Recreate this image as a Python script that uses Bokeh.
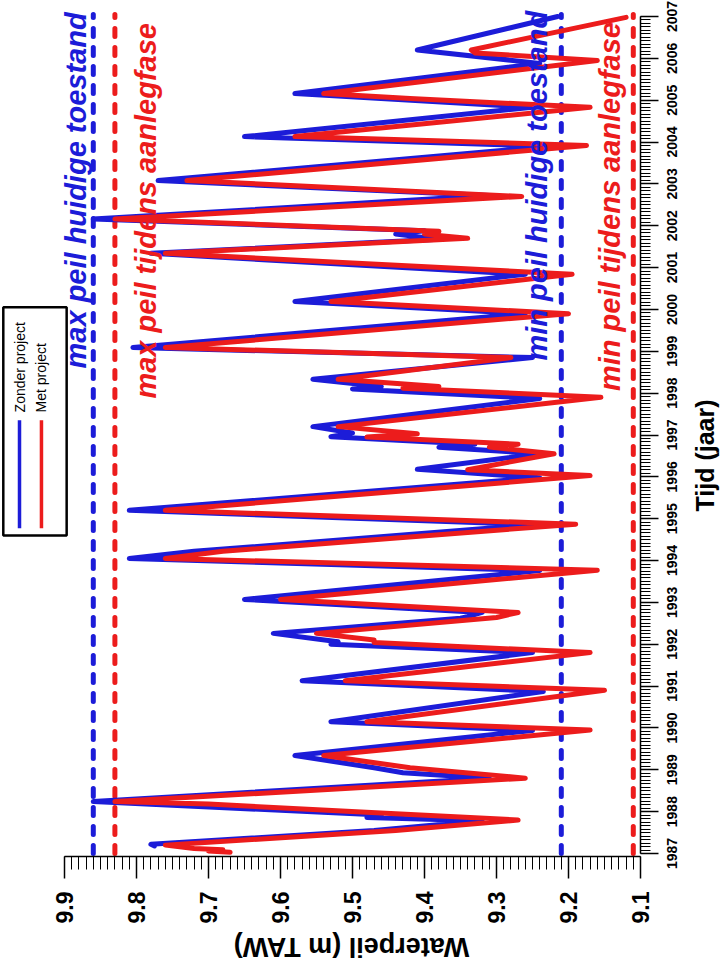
import math
from bokeh.plotting import figure
from bokeh.models import Range1d, LinearAxis, FixedTicker, CustomJSTickFormatter
from bokeh.core.properties import value
from bokeh.embed import file_html
from bokeh.resources import INLINE

# ---------------- data ----------------
years_zonder = [1987.18, 1987.22, 1987.55, 1987.78, 1987.86, 1987.92, 1988.24, 1988.80, 1988.93,
                1989.05, 1989.34, 1989.94, 1990.15, 1990.87, 1991.13, 1991.80, 1992.00, 1992.06,
                1992.26, 1992.62, 1992.66, 1992.76, 1993.07, 1993.76, 1994.05, 1994.22, 1994.86,
                1995.20, 1995.98, 1996.18, 1996.55, 1996.71, 1996.78, 1996.96, 1997.05, 1997.20,
                1997.87, 1998.10, 1998.16, 1998.33, 1998.85, 1999.09, 1999.90, 2000.19, 2000.84,
                2001.34, 2001.68, 2001.80, 2001.88, 2002.16, 2002.72, 2003.08, 2003.90, 2004.13,
                2004.83, 2005.16, 2005.88, 2006.20, 2007.00]
peil_zonder = [9.775, 9.78, 9.47, 9.32, 9.48, 9.46, 9.86, 9.31, 9.43,
               9.47, 9.58, 9.25, 9.53, 9.235, 9.57, 9.25, 9.53, 9.52,
               9.61, 9.35, 9.34, 9.32, 9.65, 9.24, 9.81, 9.72, 9.245,
               9.81, 9.24, 9.41, 9.24, 9.38, 9.33, 9.53, 9.50, 9.555,
               9.24, 9.50, 9.46, 9.555, 9.25, 9.805, 9.26, 9.58, 9.26,
               9.78, 9.38, 9.44, 9.40, 9.86, 9.31, 9.77, 9.225, 9.65,
               9.25, 9.58, 9.24, 9.41, 9.215]

years_met = [1987.03, 1987.06, 1987.09, 1987.12, 1987.20, 1987.55, 1987.80, 1987.95, 1988.18,
             1988.24, 1988.80, 1989.05, 1989.34, 1989.95, 1990.15, 1990.90, 1991.13, 1991.80,
             1992.04, 1992.10, 1992.26, 1992.64, 1992.76, 1993.07, 1993.77, 1994.05, 1994.22,
             1994.87, 1995.20, 1996.03, 1996.17, 1996.55, 1996.71, 1996.78, 1996.95, 1997.03,
             1997.20, 1997.90, 1998.12, 1998.16, 1998.33, 1998.85, 1999.09, 1999.90, 2000.19,
             2000.84, 2001.34, 2001.70, 2001.80, 2001.87, 2002.16, 2002.70, 2003.08, 2003.92,
             2004.13, 2004.83, 2005.04, 2005.16, 2005.95, 2006.13, 2006.20, 2006.98]
peil_met = [9.67, 9.70, 9.68, 9.72, 9.76, 9.44, 9.27, 9.44, 9.70,
            9.83, 9.26, 9.42, 9.54, 9.17, 9.48, 9.15, 9.51, 9.17,
            9.47, 9.47, 9.55, 9.30, 9.27, 9.60, 9.16, 9.76, 9.68,
            9.19, 9.76, 9.17, 9.34, 9.22, 9.31, 9.27, 9.48, 9.41,
            9.52, 9.155, 9.43, 9.38, 9.52, 9.28, 9.76, 9.20, 9.53,
            9.195, 9.76, 9.34, 9.40, 9.38, 9.83, 9.265, 9.73, 9.175,
            9.58, 9.17, 9.42, 9.54, 9.16, 9.33, 9.335, 9.12]

max_huidig = 9.86
max_aanleg = 9.83
min_huidig = 9.21
min_aanleg = 9.11
ref_years = [1987.0, 2007.05]

level_ticks = [9.1, 9.2, 9.3, 9.4, 9.5, 9.6, 9.7, 9.8, 9.9]
year_ticks = list(range(1987, 2008))
series_names = ["Zonder project", "Met project"]
x_title = "Waterpeil (m TAW)"
y_title = "Tijd (jaar)"

BLUE = "#1c1cd8"
RED = "#ec1c1c"
FONT = "Liberation Sans"
PX_PER_YEAR = 41.85
PX_PER_M = 720.0

# the frame spans the whole page; both axes are pinned inside it
LEVEL_AXIS_AT = 1987 - 3 / PX_PER_YEAR   # time value where the level axis runs
TIME_AXIS_AT = 9.1                        # level value where the time axis runs

p = figure(width=721, height=960, output_backend="svg", toolbar_location=None,
           x_range=Range1d(9.9 + 64 / PX_PER_M, 9.1 - 81 / PX_PER_M),
           y_range=Range1d(1987 - 107 / PX_PER_YEAR, 1987 + 853 / PX_PER_YEAR),
           x_axis_location=None, y_axis_location=None,
           min_border_left=0, min_border_right=0, min_border_top=0, min_border_bottom=0)
p.grid.visible = False
p.outline_line_color = None
p.background_fill_color = "white"
p.border_fill_color = "white"

# level axis
xaxis = LinearAxis(bounds=(9.1, 9.9), fixed_location=LEVEL_AXIS_AT,
                   ticker=FixedTicker(ticks=level_ticks,
                                      minor_ticks=[round(9.1 + i * 0.01, 2) for i in range(81)]))
xaxis.axis_line_width = 1.5
xaxis.major_tick_line_width = 1.5
xaxis.minor_tick_line_width = 1
xaxis.major_tick_out = 22
xaxis.major_tick_in = 0
xaxis.minor_tick_out = 13
xaxis.minor_tick_in = 0
xaxis.major_label_orientation = math.pi / 2
xaxis.major_label_standoff = 13
xaxis.major_label_text_font = FONT
xaxis.major_label_text_font_style = "bold"
xaxis.major_label_text_font_size = "23px"
xaxis.major_label_text_color = "black"
p.add_layout(xaxis, "below")

# time axis: line and ticks
yaxis = LinearAxis(bounds=(1987, 2007), fixed_location=TIME_AXIS_AT,
                   ticker=FixedTicker(ticks=year_ticks,
                                      minor_ticks=[1987 + k / 12 for k in range(241)]),
                   formatter=CustomJSTickFormatter(code="return ''"))
yaxis.axis_line_width = 1.5
yaxis.major_tick_line_width = 1.5
yaxis.minor_tick_line_width = 1
yaxis.major_tick_out = 18
yaxis.major_tick_in = 0
yaxis.minor_tick_out = 10
yaxis.minor_tick_in = 0
yaxis.major_label_standoff = 0
yaxis.major_label_text_font_size = "1px"
p.add_layout(yaxis, "right")

# year labels, centred on their ticks (rotated text runs upward from its anchor)
yr_size = 14
yr_half = (4 * 0.556 * yr_size / 2) / PX_PER_YEAR
ylabels = LinearAxis(fixed_location=TIME_AXIS_AT,
                     ticker=FixedTicker(ticks=[y - yr_half for y in year_ticks], minor_ticks=[]),
                     formatter=CustomJSTickFormatter(code="return Math.round(tick + %f).toString()" % yr_half))
ylabels.axis_line_color = None
ylabels.major_tick_line_color = None
ylabels.minor_tick_line_color = None
ylabels.major_tick_out = 0
ylabels.major_tick_in = 0
ylabels.minor_tick_out = 0
ylabels.minor_tick_in = 0
ylabels.major_label_orientation = math.pi / 2
ylabels.major_label_standoff = 32
ylabels.major_label_text_font = FONT
ylabels.major_label_text_font_style = "bold"
ylabels.major_label_text_font_size = "%dpx" % yr_size
ylabels.major_label_text_color = "black"
p.add_layout(ylabels, "right")

# axis titles (rotated with the chart)
p.text(x=[9.5 + 1 / PX_PER_M], y=[1987 - 93 / PX_PER_YEAR], text=[x_title], angle=math.pi,
       text_align="center", text_baseline="middle", text_font=value(FONT),
       text_font_style="bold", text_font_size="27px", text_color="black")
p.text(x=[9.1 - 64 / PX_PER_M], y=[1996.51], text=[y_title], angle=math.pi / 2,
       text_align="center", text_baseline="middle", text_font=value(FONT),
       text_font_style="bold", text_font_size="25px", text_color="black")

# reference levels (dashed)
for lvl, col in [(max_huidig, BLUE), (max_aanleg, RED), (min_huidig, BLUE), (min_aanleg, RED)]:
    p.line(x=[lvl, lvl], y=ref_years, line_color=col, line_width=5,
           line_dash="8 11", line_cap="round")

# series
p.line(x=peil_zonder, y=years_zonder, line_color=BLUE, line_width=5, line_join="round", line_cap="round")
p.line(x=peil_met, y=years_met, line_color=RED, line_width=5, line_join="round", line_cap="round")

# annotations
p.text(x=[9.884, 9.787, 9.2444, 9.143], y=[1998.59, 1997.87, 1998.78, 1998.05],
       text=["max peil huidige toestand", "max peil tijdens aanlegfase",
             "min peil huidige toestand", "min peil tijdens aanlegfase"],
       text_color=[BLUE, RED, BLUE, RED], angle=math.pi / 2, text_align="left",
       text_baseline="middle", text_font=value(FONT), text_font_style="bold italic",
       text_font_size="29px")

# manual rotated legend
p.quad(left=[9.985], right=[9.897], bottom=[1994.60], top=[2000.05],
       fill_color="white", line_color="black", line_width=2.5)
leg_x = [9.9625, 9.932]
for lx, col in zip(leg_x, [BLUE, RED]):
    p.line(x=[lx, lx], y=[1994.77, 1997.35], line_color=col, line_width=3.5)
p.text(x=leg_x, y=[1997.54, 1997.54], text=series_names, angle=math.pi / 2,
       text_align="left", text_baseline="middle", text_font=value(FONT),
       text_font_size="14px", text_color="black")

open("out.html", "w").write(file_html(p, INLINE))
